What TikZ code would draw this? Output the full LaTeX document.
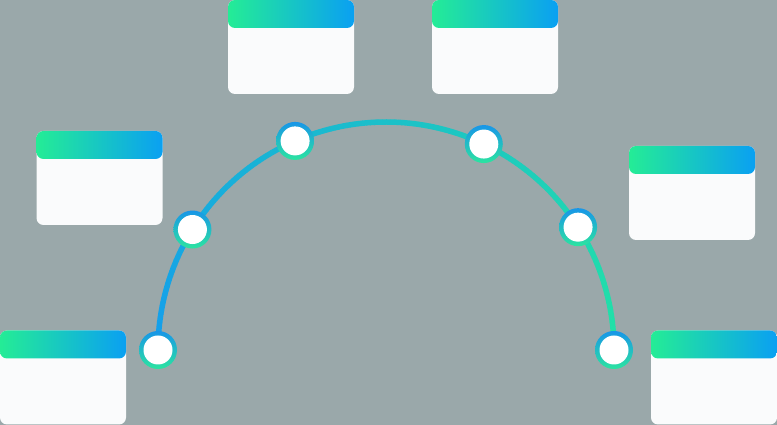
\documentclass[tikz,border=0pt]{standalone}
\definecolor{bgc}{RGB}{154,168,170}
\definecolor{arcblue}{RGB}{20,158,236}
\definecolor{arcgreen}{RGB}{34,226,166}
\definecolor{hdgreen}{RGB}{36,236,150}
\definecolor{hdblue}{RGB}{10,160,242}
\definecolor{cardbody}{RGB}{250,251,252}
\definecolor{dotblue}{RGB}{24,150,232}
\definecolor{dotgreen}{RGB}{44,228,160}
\begin{document}
\begin{tikzpicture}[x=1pt,y=1pt,
  card/.style={rectangle, rounded corners=7pt, minimum width=126pt, minimum height=94pt, inner sep=0pt, fill=cardbody,
    path picture={\shade[left color=hdgreen, right color=hdblue] ([yshift=1pt]path picture bounding box.north west) rectangle ([yshift=-28pt]path picture bounding box.north east);}},
  dot/.style={circle, minimum size=38pt, inner sep=0pt, top color=dotblue, bottom color=dotgreen,
    path picture={\fill[white] (path picture bounding box.center) circle (14.5pt);}}]
\fill[bgc] (0,0) rectangle (777,425);
\useasboundingbox (0,0) rectangle (777,425);
\coordinate (O) at (386,75);
% gradient arc
\foreach \i in {0,...,179}{
  \pgfmathsetmacro\p{\i/1.79}
  \pgfmathsetmacro\sa{180-\i}
  \pgfmathsetmacro\ea{178.9-\i}
  \draw[line width=5.5pt, arcgreen!\p!arcblue] ([shift={(\sa:228pt)}]O) arc (\sa:\ea:228pt);
}
% cards
\node[card] (c1) at (291,378) {};
\node[card] (c2) at (495,378) {};
\node[card] (c3) at (99.5,247) {};
\node[card] (c4) at (692,232) {};
\node[card] (c5) at (63,47.5) {};
\node[card] (c6) at (714,47.5) {};
% dots
\node[dot] (d1) at ([shift={(180:228pt)}]O) {};
\node[dot] (d2) at ([shift={(148.1:228pt)}]O) {};
\node[dot] (d3) at ([shift={(113.5:228pt)}]O) {};
\node[dot] (d4) at ([shift={(64.6:228pt)}]O) {};
\node[dot] (d5) at ([shift={(32.6:228pt)}]O) {};
\node[dot] (d6) at ([shift={(0:228pt)}]O) {};
\end{tikzpicture}
\end{document}
